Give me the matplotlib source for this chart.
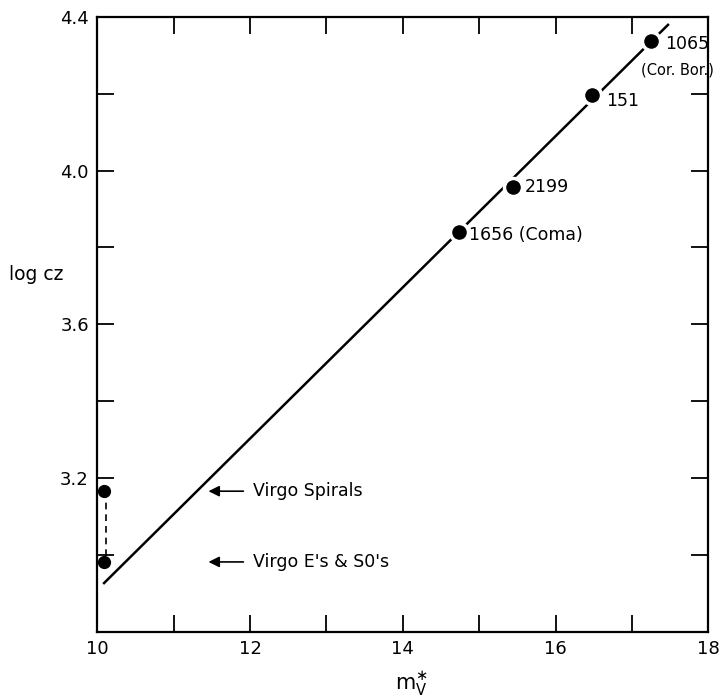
import numpy as np
import matplotlib.pyplot as plt

# clusters
cluster_names = ["1065", "151", "2199", "1656 (Coma)"]
cluster_mag = [17.25, 16.47, 15.44, 14.73]
cluster_logcz = [4.338, 4.197, 3.956, 3.839]

# Virgo points (spirals, E's & S0's)
virgo_mag = [10.09, 10.09]
virgo_logcz = [3.166, 2.982]
virgo_labels = ["Virgo Spirals", "Virgo E's & S0's"]

# fitted Hubble line end points
line_mag = [10.09, 17.47]
line_logcz = [2.927, 4.379]

xticks = np.arange(10, 19, 1)
yticks = np.round(np.arange(2.8, 4.41, 0.2), 1)
xlabels = [str(v) if v % 2 == 0 else "" for v in xticks]
ylabels = [f"{v:.1f}" if round(v * 10) % 4 == 0 and v > 3.0 else "" for v in yticks]

plt.rcParams['font.family'] = ['DejaVu Sans']

fig = plt.figure(figsize=(7.2, 6.99), dpi=100)
ax = fig.add_axes([0.135, 0.096, 0.849, 0.88])

ax.plot(line_mag, line_logcz, color="black", lw=1.8, zorder=2)
ax.plot(cluster_mag, cluster_logcz, "o", color="black", ms=13,
        mec="white", mew=2.5, zorder=3)

ax.plot([v + 0.02 for v in virgo_mag], virgo_logcz, color="black",
        lw=1.2, ls=(0, (4, 3)), zorder=2)
ax.plot(virgo_mag, virgo_logcz, "o", color="black", ms=8.5, zorder=3)

for y, txt in zip(virgo_logcz, virgo_labels):
    ax.annotate("", xy=(11.42, y), xytext=(11.95, y),
                arrowprops=dict(arrowstyle="-|>", color="black", lw=1.2,
                                mutation_scale=16))
    ax.text(12.04, y, txt, fontsize=12.5, va="center", ha="left")

label_pos = [(17.43, 4.33), (16.66, 4.18), (15.6, 3.956), (14.86, 3.833)]
for (x, y), txt in zip(label_pos, cluster_names):
    ax.text(x, y, txt, fontsize=12.5, va="center", ha="left")
ax.text(17.12, 4.262, "(Cor. Bor.)", fontsize=10.5, va="center", ha="left")

ax.set_xlim(10, 18)
ax.set_ylim(2.8, 4.4)
ax.set_xticks(xticks)
ax.set_xticklabels(xlabels)
ax.set_yticks(yticks)
ax.set_yticklabels(ylabels)
ax.tick_params(direction="in", length=12, width=1.3, top=True, right=True,
               labelsize=13, pad=6)
for s in ax.spines.values():
    s.set_linewidth(1.6)

fig.text(0.012, 0.607, "log cz", fontsize=13.5, va="center", ha="left")
fig.text(0.571, 0.022, r"m$_\mathrm{V}^{\ast}$", fontsize=15, ha="center", va="center")

fig.savefig("out.png", dpi=100)
